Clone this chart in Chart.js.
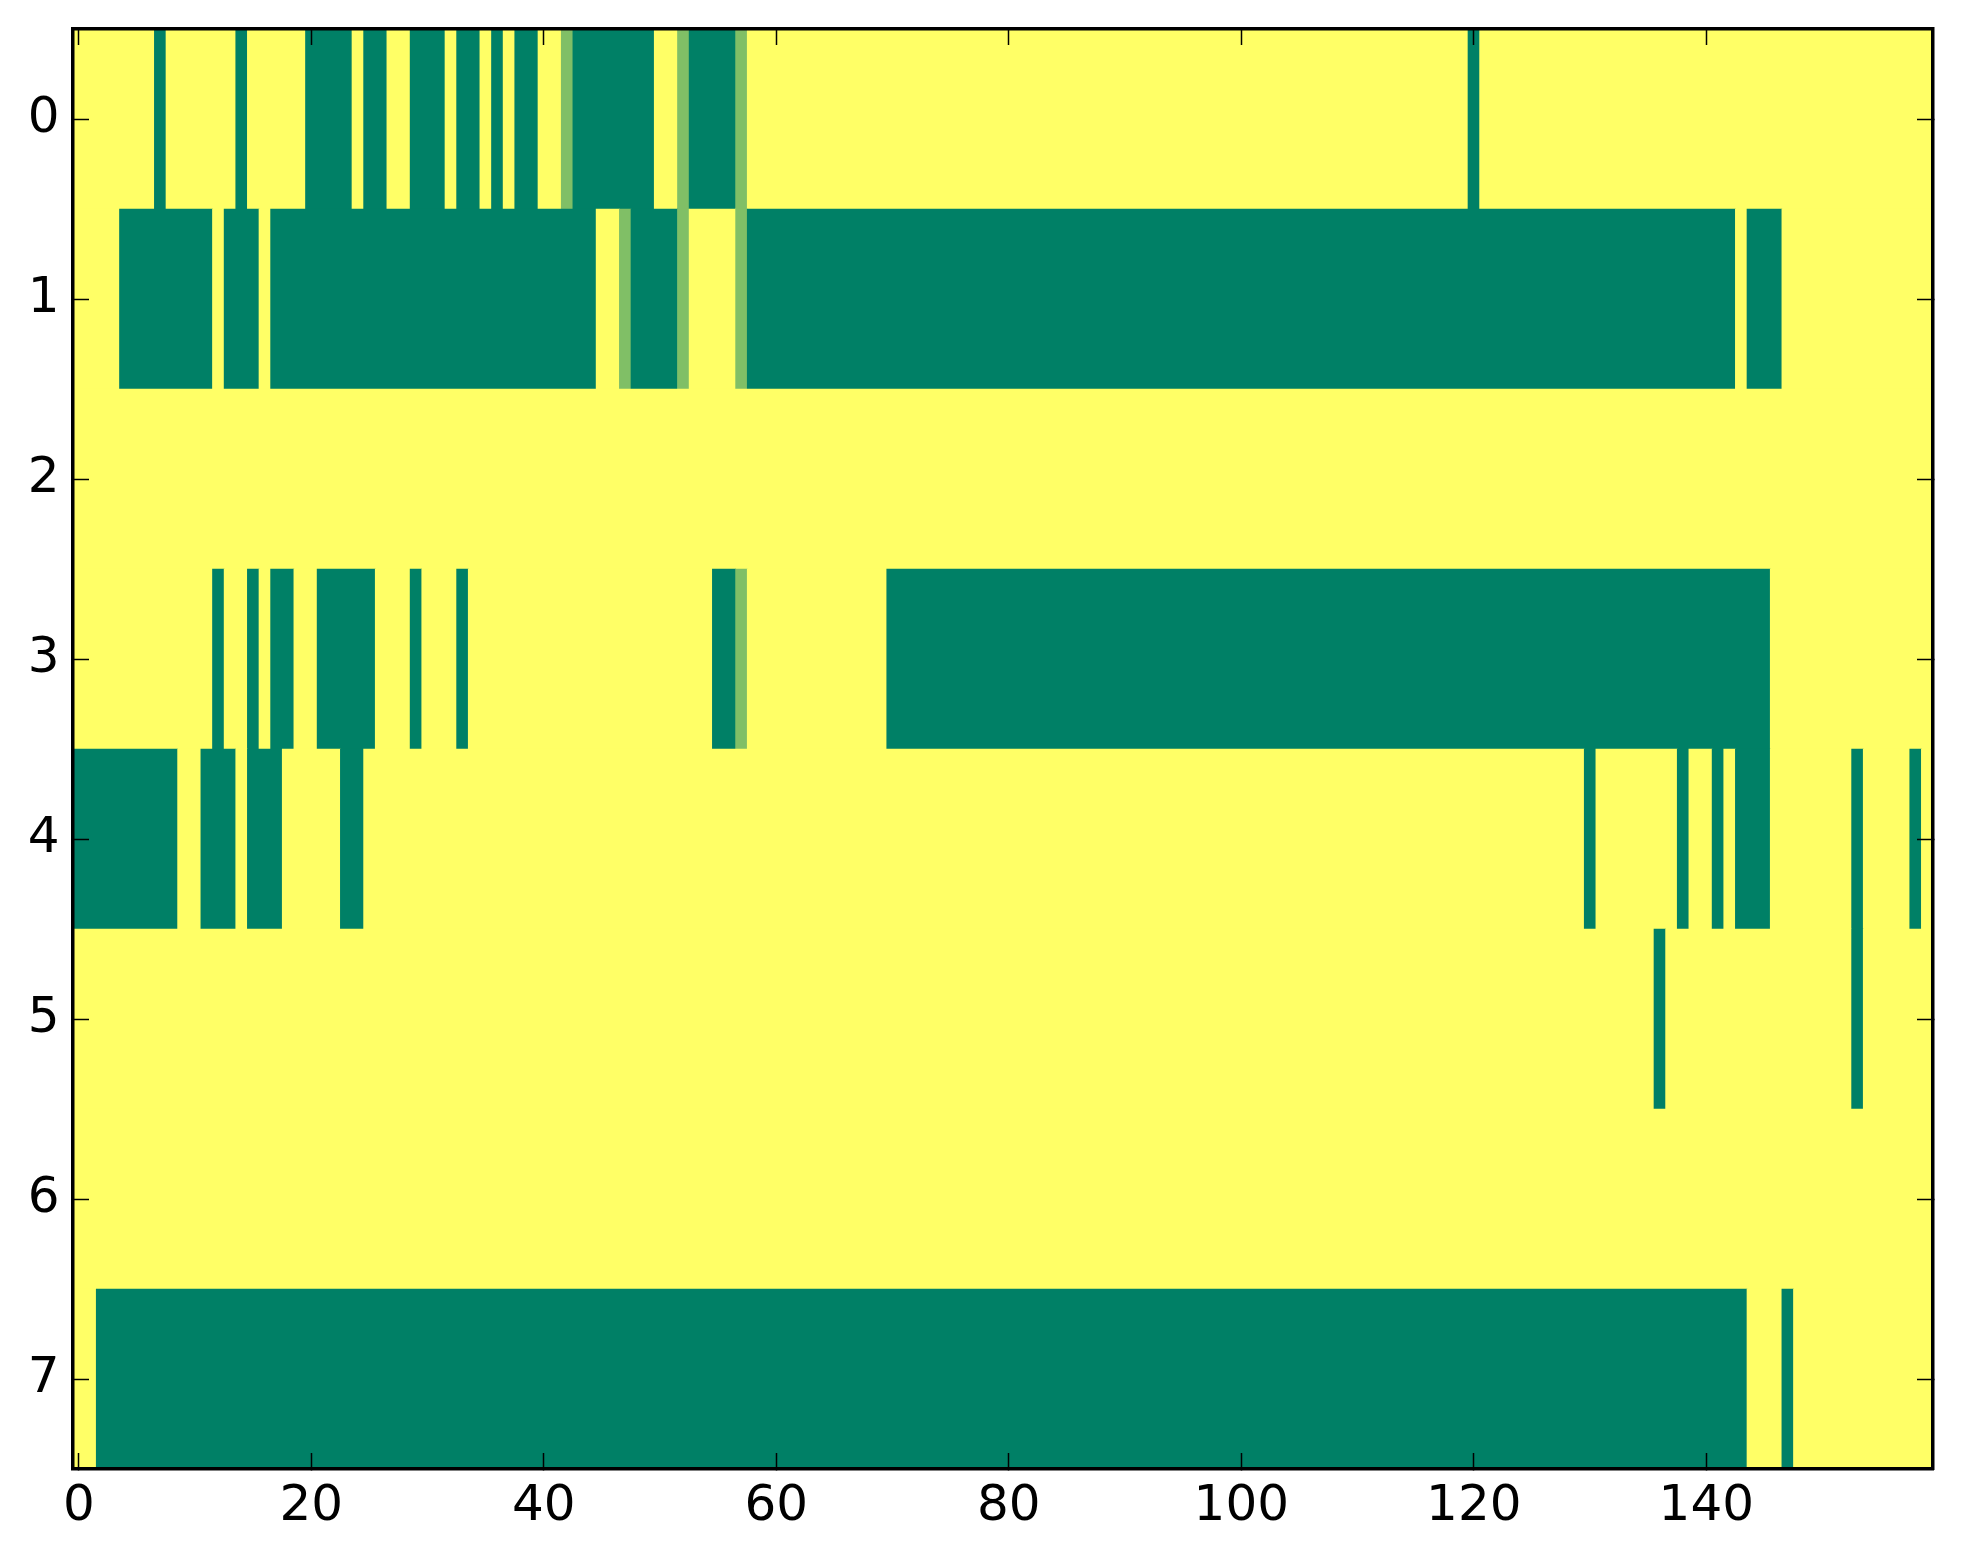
<!DOCTYPE html>
<html>
<head>
<meta charset="utf-8">
<script src="https://cdn.jsdelivr.net/npm/chart.js@4/dist/chart.umd.min.js"></script>
<style>
  html, body { margin: 0; padding: 0; background: #ffffff; }
  #wrap { width: 1963px; height: 1564px; }
</style>
</head>
<body>
<div id="wrap"><canvas id="c" width="1963" height="1564" style="width:1963px;height:1564px"></canvas></div>
<script>
// ---- data ----
const rowNames = ['0', '1', '2', '3', '4', '5', '6', '7'];
const xTicks = [0, 20, 40, 60, 80, 100, 120, 140];
const yTicks = [0, 1, 2, 3, 4, 5, 6, 7];
const xMin = -0.5, xMax = 159.5;
// each row as runs of [value, number of columns], value 0 .. 1 (summer colormap)
const row0 = [[1,7],[0,1],[1,6],[0,1],[1,5],[0,4],[1,1],[0,2],[1,2],[0,3],[1,1],[0,2],[1,1],[0,1],[1,1],[0,2],[1,2],[0.5,1],[0,7],[1,2],[0.5,1],[0,4],[0.5,1],[1,62],[0,1],[1,39]];
const row1 = [[1,4],[0,8],[1,1],[0,3],[1,1],[0,28],[1,2],[0.5,1],[0,4],[0.5,1],[1,4],[0.5,1],[0,85],[1,1],[0,3],[1,13]];
const row2 = [[1,160]];
const row3 = [[1,12],[0,1],[1,2],[0,1],[1,1],[0,2],[1,2],[0,5],[1,3],[0,1],[1,3],[0,1],[1,21],[0,2],[0.5,1],[1,12],[0,76],[1,14]];
const row4 = [[0,9],[1,2],[0,3],[1,1],[0,3],[1,5],[0,2],[1,105],[0,1],[1,7],[0,1],[1,2],[0,1],[1,1],[0,3],[1,7],[0,1],[1,4],[0,1],[1,1]];
const row5 = [[1,136],[0,1],[1,16],[0,1],[1,6]];
const row6 = [[1,160]];
const row7 = [[1,2],[0,142],[1,3],[0,1],[1,12]];
const rows = [row0, row1, row2, row3, row4, row5, row6, row7];

// summer colormap
function summer(v) {
  const r = Math.round(255 * v);
  const g = Math.round(255 * (0.5 + v / 2));
  const b = 102;
  return 'rgb(' + r + ',' + g + ',' + b + ')';
}

// build floating bar segments (cells merged into runs)
const segs = [];
rows.forEach((runs, r) => {
  let start = xMin;
  runs.forEach(([v, n]) => {
    segs.push({ x: [start, start + n], y: r, v: v });
    start += n;
  });
});

const tickFont = { family: 'DejaVu Sans', size: 50 };
function zeroPad(s) { s.paddingLeft = 0; s.paddingRight = 0; s.paddingTop = 0; s.paddingBottom = 0; }
function fixW(w) { return s => { s.width = w; zeroPad(s); }; }
function fixH(h) { return s => { s.height = h; zeroPad(s); }; }
const gridOpts = { z: 1, offset: false, drawOnChartArea: false, drawTicks: true, tickLength: -16, tickWidth: 1.5, tickColor: '#000', color: '#000' };
const borderOpts = { z: 2, display: true, color: '#000', width: 3.5 };

new Chart(document.getElementById('c'), {
  type: 'bar',
  data: {
    datasets: [{
      data: segs,
      backgroundColor: ctx => summer(ctx.raw ? ctx.raw.v : 1),
      borderWidth: 0,
      barPercentage: 1,
      categoryPercentage: 1
    }]
  },
  options: {
    indexAxis: 'y',
    responsive: false,
    devicePixelRatio: 1,
    animation: false,
    layout: { padding: { top: 29, left: 0, right: 30, bottom: 0 } },
    plugins: { legend: { display: false }, tooltip: { enabled: false } },
    scales: {
      x: {
        type: 'linear', position: 'bottom', min: xMin, max: xMax, offset: false,
        afterBuildTicks: s => { s.ticks = xTicks.map(v => ({ value: v })); },
        ticks: { font: tickFont, color: '#000', padding: 24, maxRotation: 0, autoSkip: false },
        grid: gridOpts, border: borderOpts,
        afterFit: fixH(95)
      },
      x2: {
        type: 'linear', axis: 'x', position: 'top', min: xMin, max: xMax, offset: false,
        afterBuildTicks: s => { s.ticks = xTicks.map(v => ({ value: v })); },
        ticks: { display: false },
        grid: gridOpts, border: borderOpts,
        afterFit: fixH(0)
      },
      y: {
        type: 'linear', position: 'left', reverse: true, min: -0.5, max: 7.5, offset: false,
        afterBuildTicks: s => { s.ticks = yTicks.map(v => ({ value: v })); },
        ticks: { font: tickFont, color: '#000', padding: 29.5, autoSkip: false,
                 callback: v => rowNames[v] },
        grid: gridOpts, border: borderOpts,
        afterFit: fixW(73)
      },
      y2: {
        type: 'linear', axis: 'y', position: 'right', reverse: true, min: -0.5, max: 7.5, offset: false,
        afterBuildTicks: s => { s.ticks = yTicks.map(v => ({ value: v })); },
        ticks: { display: false },
        grid: gridOpts, border: borderOpts,
        afterFit: fixW(0)
      }
    }
  }
});
</script>
</body>
</html>
